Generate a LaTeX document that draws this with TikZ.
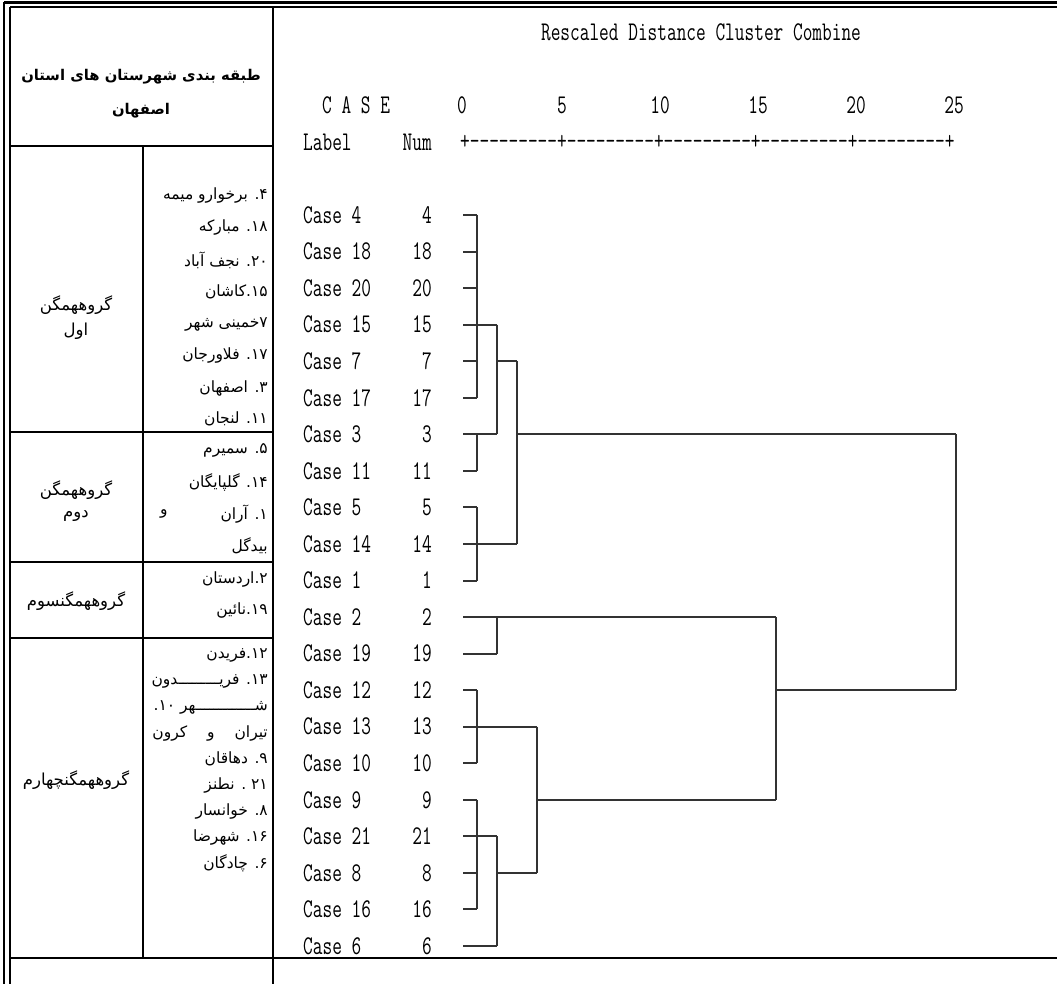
\documentclass[tikz,border=0pt]{standalone}
\usepackage{fontspec}
\usepackage{graphicx}
\newfontfamily\farsi[Script=Arabic]{DejaVu Sans}
\TeXXeTstate=1
\newcommand\mt[1]{\scalebox{0.697}[1]{\fontsize{27}{27}\selectfont\ttfamily #1}}
\newcommand\fa[1]{{\farsi\beginR #1\endR}}
\tikzset{
  tl/.style={line width=2.4pt, black},
  dl/.style={line width=2pt, black!80},
  mono/.style={inner sep=0pt},
  fatext/.style={inner sep=0pt, font=\farsi\fontsize{15.5}{18}\selectfont},
  fagroup/.style={inner sep=0pt, font=\farsi\fontsize{16.5}{19}\selectfont},
  fahead/.style={inner sep=0pt, font=\farsi\bfseries\fontsize{14.8}{18}\selectfont},
}
\begin{document}
\begin{tikzpicture}[x=1pt,y=-1pt]
\useasboundingbox (0,0) rectangle (1057,984);
\fill[white] (0,0) rectangle (1057,984);
% ---------- table frame ----------
\draw[line width=1.6pt] (4,2.5) -- (4,984);
\draw[line width=2.6pt] (10,7.5) -- (10,984);
\draw[line width=3pt] (4,2.5) -- (1057,2.5);
\draw[line width=2pt] (10,7.5) -- (1057,7.5);
\draw[tl] (273,7.5) -- (273,984);
\draw[tl] (143,146) -- (143,958);
\draw[tl] (10,146) -- (273,146);
\draw[tl] (10,432) -- (273,432);
\draw[tl] (10,562) -- (273,562);
\draw[tl] (10,638) -- (273,638);
\draw[tl] (10,958) -- (1057,958);
% ---------- left header ----------
\node[fahead] (h1) at (141,77) {\fa{طبقه بندی شهرستان های استان}};
\node[fahead] (h2) at (141,111) {\fa{اصفهان}};
% ---------- group titles ----------
\node[fagroup] (g1a) at (76,305) {\fa{گروههمگن}};
\node[fagroup] (g1b) at (76,331) {\fa{اول}};
\node[fagroup] (g2a) at (76,490) {\fa{گروههمگن}};
\node[fagroup] (g2b) at (76,516) {\fa{دوم}};
\node[fagroup] (g3) at (76,601) {\fa{گروههمگنسوم}};
\node[fagroup] (g4) at (76,780) {\fa{گروههمگنچهارم}};
% ---------- group 1 members ----------
\node[fatext,anchor=east] (a1) at (268,196) {\fa{۴\kern0pt. برخوارو میمه}};
\node[fatext,anchor=east] (a2) at (268,228) {\fa{۱۸\kern0pt. مبارکه}};
\node[fatext,anchor=east] (a3) at (268,260) {\fa{۲۰\kern0pt. نجف آباد}};
\node[fatext,anchor=east] (a4) at (268,292) {\fa{۱۵\kern0pt.\kern0pt کاشان}};
\node[fatext,anchor=east] (a5) at (268,324) {\fa{۷خمینی شهر}};
\node[fatext,anchor=east] (a6) at (268,356) {\fa{۱۷\kern0pt. فلاورجان}};
\node[fatext,anchor=east] (a7) at (268,388) {\fa{۳\kern0pt. اصفهان}};
\node[fatext,anchor=east] (a8) at (268,419) {\fa{۱۱\kern0pt. لنجان}};
% ---------- group 2 members ----------
\node[fatext,anchor=east] (b1) at (268,450) {\fa{۵\kern0pt. سمیرم}};
\node[fatext,anchor=east] (b2) at (268,482) {\fa{۱۴\kern0pt. گلپایگان}};
\node[fatext,anchor=east] (b3) at (268,514) {\fa{۱\kern0pt. آران}};
\node[fatext,anchor=west] (b3w) at (160,514) {\fa{و}};
\node[fatext,anchor=east] (b4) at (268,546) {\fa{بیدگل}};
% ---------- group 3 members ----------
\node[fatext,anchor=east] (c1) at (268,579) {\fa{۲\kern0pt.\kern0pt اردستان}};
\node[fatext,anchor=east] (c2) at (268,610) {\fa{۱۹\kern0pt.\kern0pt نائین}};
% ---------- group 4 members ----------
\node[fatext,anchor=east] (d1) at (268,655) {\fa{۱۲\kern0pt.\kern0pt فریدن}};
\node[fatext,anchor=east] (d2) at (268,681) {\fa{۱۳\kern0pt. فریـــــــــدون}};
\node[fatext,anchor=east] (d3) at (268,707) {\fa{شـــــــــــــهر ۱۰\kern0pt.}};
\node[fatext,anchor=east] (d4) at (268,733) {\fa{تیران\hspace{15pt} و\hspace{15pt} کرون}};
\node[fatext,anchor=east] (d5) at (268,759) {\fa{۹\kern0pt. دهاقان}};
\node[fatext,anchor=east] (d6) at (268,785) {\fa{۲۱ . نطنز}};
\node[fatext,anchor=east] (d7) at (268,811) {\fa{۸\kern0pt. خوانسار}};
\node[fatext,anchor=east] (d8) at (268,837) {\fa{۱۶\kern0pt. شهرضا}};
\node[fatext,anchor=east] (d9) at (268,863) {\fa{۶\kern0pt. چادگان}};
% ---------- dendrogram header ----------
\node[mono] (title) at (701,32) {\mt{Rescaled Distance Cluster Combine}};
\node[mono,anchor=west] (casehd) at (322,105) {\mt{C A S E}};
\node[mono] (t0) at (462,105) {\mt{0}};
\node[mono] (t5) at (562,105) {\mt{5}};
\node[mono] (t10) at (660,105) {\mt{10}};
\node[mono] (t15) at (758,105) {\mt{15}};
\node[mono] (t20) at (856,105) {\mt{20}};
\node[mono] (t25) at (954,105) {\mt{25}};
\node[mono,anchor=west] (labhd) at (303,142) {\mt{Label}};
\node[mono,anchor=east] (numhd) at (432,142) {\mt{Num}};
\node[mono,anchor=west] (axis) at (460,142) {\mt{+---------+---------+---------+---------+---------+}};
% ---------- rows ----------
\foreach \lab [count=\i from 0] in {4,18,20,15,7,17,3,11,5,14,1,2,19,12,13,10,9,21,8,16,6}{
  \coordinate (r\i) at (463,{215+36.55*\i});
  \node[mono,anchor=west] (case\i) at (303,{215+36.55*\i}) {\mt{Case \lab}};
  \node[mono,anchor=east] (num\i) at (432,{215+36.55*\i}) {\mt{\lab}};
}
\coordinate (v1) at (477,0);
\coordinate (v2) at (497,0);
\coordinate (v3) at (517,0);
\coordinate (v4) at (537,0);
\coordinate (v5) at (776,0);
\coordinate (v6) at (956,0);
% leaf lines
\foreach \i/\v in {0/v1,1/v1,2/v1,3/v2,4/v1,5/v1,6/v2,7/v1,8/v1,9/v3,10/v1,11/v5,12/v2,13/v1,14/v4,15/v1,16/v1,17/v2,18/v1,19/v1,20/v2}{
  \draw[dl] (r\i) -- (r\i -| \v);
}
% verticals
\foreach \v/\a/\b in {v1/0/5,v1/6/7,v1/8/10,v1/13/15,v1/16/19,v2/3/6,v2/11/12,v2/17/20,v3/4/9,v4/14/18,v5/11/16,v6/6/13}{
  \draw[dl] (r\a -| \v) -- (r\b -| \v);
}
% horizontals between clusters
\foreach \i/\p/\q in {4/v2/v3,6/v3/v6,18/v2/v4,16/v4/v5,13/v5/v6}{
  \draw[dl] (r\i -| \p) -- (r\i -| \q);
}
\end{tikzpicture}
\end{document}
